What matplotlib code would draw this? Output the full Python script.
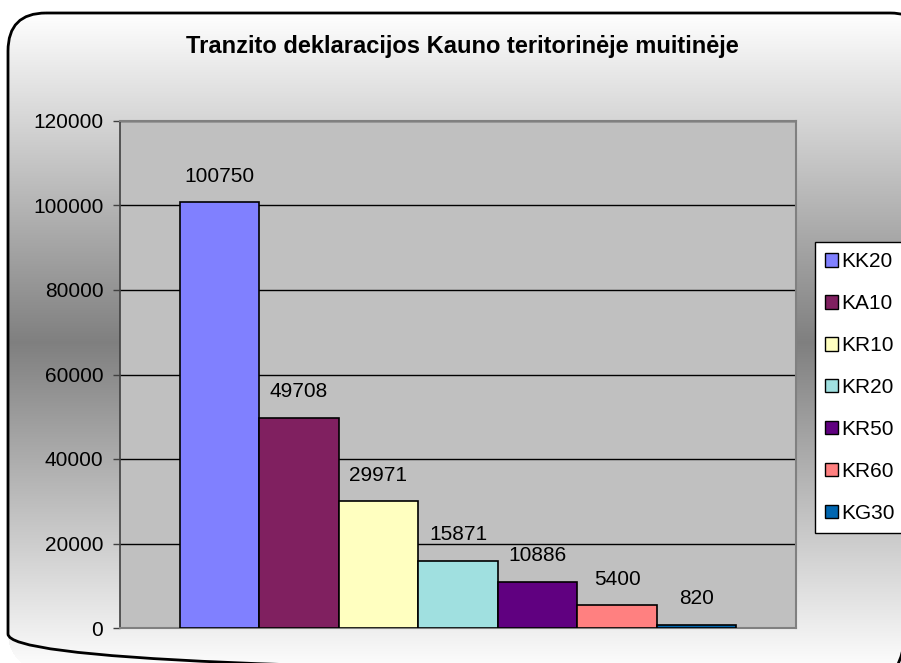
import numpy as np
import matplotlib
matplotlib.use("Agg")
import matplotlib.pyplot as plt
from matplotlib.patches import FancyBboxPatch

plt.rcParams['font.family'] = ['Liberation Sans', 'DejaVu Sans']

title = "Tranzito deklaracijos Kauno teritorinėje muitinėje"
series = ["KK20", "KA10", "KR10", "KR20", "KR50", "KR60", "KG30"]
values = [100750, 49708, 29971, 15871, 10886, 5400, 820]
colors = ["#8080FF", "#802060", "#FFFFC0", "#A0E0E0", "#600080", "#FF8080", "#0066B0"]
yticks = [0, 20000, 40000, 60000, 80000, 100000, 120000]

W, H = 901, 663
fig = plt.figure(figsize=(W / 100, H / 100), dpi=100)

# rounded frame geometry (pixels, y down)
x0, y0, x1, y1, r = 8, 13, 928, 672, 38

# background gradient inside rounded frame, built as a pixel image
bg = fig.add_axes([0, 0, 1, 1])
bg.set_xlim(0, W)
bg.set_ylim(H, 0)
bg.axis('off')
yy, xx = np.mgrid[0:H, 0:W] + 0.5
t = (yy - y0) / (y1 - y0)
g = 1 - 0.5 * (1 - np.abs(t - 0.5) * 2)
cx = np.clip(xx, x0 + r, x1 - r)
cy = np.clip(yy, y0 + r, y1 - r)
inside = ((xx - cx) ** 2 + (yy - cy) ** 2 <= r ** 2) & (xx >= x0) & (xx <= x1) & (yy >= y0) & (yy <= y1)
g = np.where(inside, g, 1.0)
img = np.dstack([g, g, g])
bg.imshow(img, extent=[0, W, H, 0], aspect='auto', interpolation='nearest', zorder=1)
bg.set_xlim(0, W)
bg.set_ylim(H, 0)
frame = FancyBboxPatch((x0, y0), x1 - x0, y1 - y0, boxstyle="round,pad=0,rounding_size=%d" % r,
                       fc='none', ec='black', lw=2, transform=bg.transData, zorder=3)
bg.add_patch(frame)

fig.text(462 / W, 1 - 47 / H, title, ha='center', va='center',
         fontsize=17, fontweight='bold')

ax = fig.add_axes([120 / W, 1 - 628 / H, (796 - 120) / W, (628 - 121) / H])
ax.set_facecolor('#C0C0C0')
n = len(values)
x = np.arange(n) + 0.75
bars = ax.bar(x, values, width=1.0, align='edge', color=colors,
              edgecolor='black', linewidth=1.2, zorder=3)
for xi, v in zip(x, values):
    ax.annotate(str(v), (xi + 0.5, v), xytext=(0, 12), textcoords='offset points',
                ha='center', va='bottom', fontsize=15)
ax.set_xlim(0, n + 1.5)
ax.set_ylim(0, 120000)
ax.set_yticks(yticks)
ax.set_yticklabels([str(t) for t in yticks], fontsize=15)
ax.set_xticks([])
ax.yaxis.grid(True, color='black', linewidth=1.0, zorder=1)
ax.set_axisbelow(True)
ax.tick_params(axis='y', direction='out', length=5, width=1, color='#404040', pad=7)
for s in ['top', 'right', 'bottom']:
    ax.spines[s].set_color('#808080')
    ax.spines[s].set_linewidth(1.5)
ax.spines['left'].set_color('#404040')
ax.spines['left'].set_linewidth(1.2)

handles = [plt.Rectangle((0, 0), 1, 1, fc=c, ec='black', lw=1) for c in colors]
leg = fig.legend(handles, series, loc='upper left', bbox_to_anchor=(815 / W, 1 - 242 / H),
                 fontsize=15, frameon=True, fancybox=False, edgecolor='black',
                 framealpha=1, facecolor='white', handlelength=0.6, handleheight=0.6,
                 handletextpad=0.15, labelspacing=1.1, borderpad=0.5, borderaxespad=0)
leg.get_frame().set_linewidth(1)

fig.savefig('out.png', dpi=100)
